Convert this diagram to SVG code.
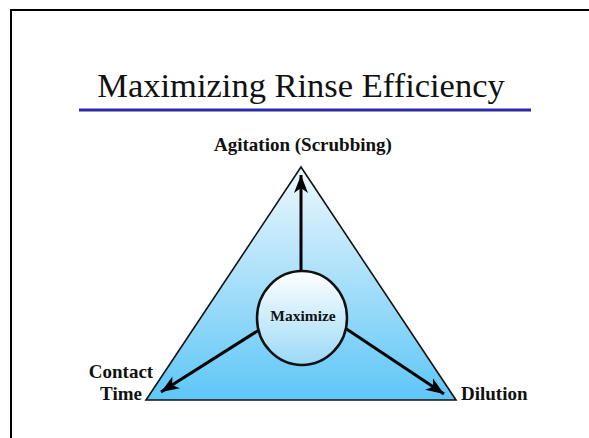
<svg xmlns="http://www.w3.org/2000/svg" width="589" height="438" viewBox="0 0 589 438">
<style>
.lbl{font-family:"Liberation Serif","Times New Roman",serif;font-weight:bold;font-size:19px;fill:#111}
.title{font-family:"Liberation Serif","Times New Roman",serif;font-size:34.5px;fill:#111}
.arrow{stroke:#000;stroke-width:3;fill:none;marker-end:url(#ah)}
</style>
<defs>
<linearGradient id="tri" x1="0" y1="0" x2="0" y2="1">
<stop offset="0" stop-color="#eef8fd"/>
<stop offset="1" stop-color="#5ec6f7"/>
</linearGradient>
<linearGradient id="circ" x1="0" y1="0" x2="0" y2="1">
<stop offset="0" stop-color="#ffffff"/>
<stop offset="1" stop-color="#9ad9f7"/>
</linearGradient>
<marker id="ah" markerWidth="20" markerHeight="16" viewBox="-19 -8 20 16" refX="0" refY="0" orient="auto" markerUnits="userSpaceOnUse">
<path d="M0,0 L-18,-7 L-13,0 L-18,7 Z" fill="#000"/>
</marker>
</defs>
<rect width="589" height="438" fill="#fff"/>
<path d="M11,438 L11,10 L589,10" stroke="#000" stroke-width="2" fill="none"/>
<g id="title">
<text class="title" x="301" y="97" text-anchor="middle">Maximizing Rinse Efficiency</text>
<line x1="79" y1="110" x2="531" y2="110" stroke="#2b2ba8" stroke-width="3"/>
</g>
<g id="triangle">
<polygon points="301,167 456,400 146,400" fill="url(#tri)" stroke="#111" stroke-width="1.6"/>
</g>
<g id="connectors">
<line class="arrow" x1="301" y1="272" x2="301" y2="175"/>
<line class="arrow" x1="259" y1="330" x2="161" y2="392"/>
<line class="arrow" x1="345" y1="328" x2="444" y2="394"/>
</g>
<g id="maximize">
<ellipse cx="302" cy="318" rx="45" ry="47" fill="url(#circ)" stroke="#111" stroke-width="2.5"/>
<text class="lbl" x="303" y="321" text-anchor="middle" style="font-size:15.5px">Maximize</text>
</g>
<g id="agitation">
<text class="lbl" x="303" y="151" text-anchor="middle">Agitation (Scrubbing)</text>
</g>
<g id="contact-time">
<text class="lbl" x="121" y="378" text-anchor="middle">Contact</text>
<text class="lbl" x="121" y="400" text-anchor="middle">Time</text>
</g>
<g id="dilution">
<text class="lbl" x="461" y="400">Dilution</text>
</g>
</svg>
